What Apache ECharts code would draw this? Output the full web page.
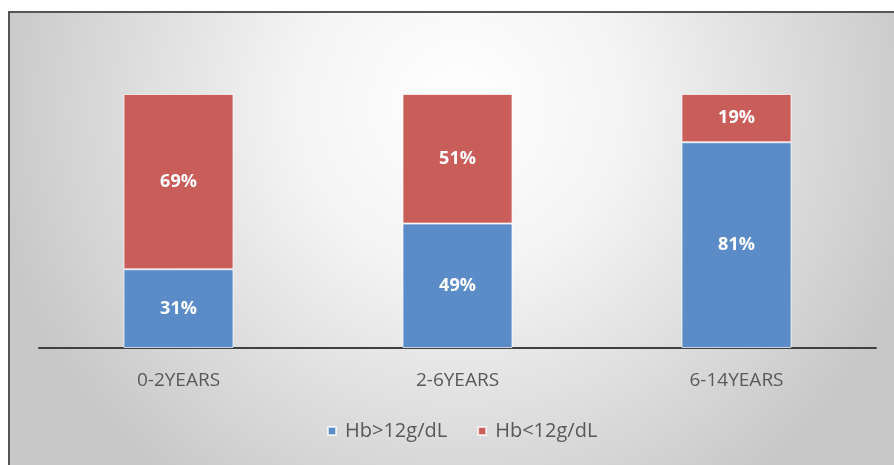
<!DOCTYPE html>
<html>
<head>
<meta charset="utf-8">
<script src="https://cdn.jsdelivr.net/npm/echarts@6/dist/echarts.min.js"></script>
<style>
  html, body { margin: 0; padding: 0; background: #ffffff; }
  #chart { width: 894px; height: 465px; }
</style>
</head>
<body>
<div id="chart"></div>
<script>
// Haemoglobin levels by age group (share of children, %)
const categories = ['0-2YEARS', '2-6YEARS', '6-14YEARS'];
const seriesNames = ['Hb>12g/dL', 'Hb<12g/dL'];
const hbAbove = [31, 49, 81];
const hbBelow = [69, 51, 19];

const blue = '#5b8cc7';
const red = '#c95d5a';

const chart = echarts.init(document.getElementById('chart'));

const labelStyle = {
  show: true,
  position: 'inside',
  color: '#ffffff',
  fontWeight: 'bold',
  fontSize: 18,
  fontFamily: 'Open Sans',
  formatter: p => p.value + '%'
};

chart.setOption({
  animation: false,
  graphic: [
    {
      type: 'rect',
      z: -10,
      shape: { x: 9, y: 12, width: 900, height: 470 },
      style: {
        fill: {
          type: 'radial', x: 0.5, y: 0.2, r: 1.0,
          colorStops: [
            { offset: 0, color: '#ffffff' },
            { offset: 0.35, color: '#f4f4f4' },
            { offset: 0.75, color: '#d9d9d9' },
            { offset: 1, color: '#c8c8c8' }
          ]
        },
        stroke: '#555555',
        lineWidth: 2
      }
    }
  ],
  grid: { left: 39, right: 18, top: 94, bottom: 117 },
  legend: {
    data: seriesNames,
    bottom: 19,
    left: 322,
    icon: 'rect',
    itemWidth: 8,
    itemHeight: 8,
    itemGap: 30,
    textStyle: { color: '#595959', fontSize: 20, fontFamily: 'Open Sans', padding: [0, 0, 0, 4] }
  },
  xAxis: {
    type: 'category',
    data: categories,
    axisLine: { lineStyle: { color: '#404040', width: 2 } },
    axisTick: { show: false },
    axisLabel: { color: '#595959', fontSize: 19, fontFamily: 'Open Sans', margin: 23 }
  },
  yAxis: {
    type: 'value',
    min: 0,
    max: 100,
    show: false,
    splitLine: { show: false }
  },
  series: [
    {
      name: seriesNames[0],
      type: 'bar',
      stack: 'hb',
      barWidth: 110,
      data: hbAbove,
      itemStyle: { color: blue, borderColor: 'rgba(255,255,255,0.7)', borderWidth: 1 },
      label: labelStyle
    },
    {
      name: seriesNames[1],
      type: 'bar',
      stack: 'hb',
      barWidth: 110,
      data: hbBelow,
      itemStyle: { color: red, borderColor: 'rgba(255,255,255,0.7)', borderWidth: 1 },
      label: labelStyle
    }
  ]
});
</script>
</body>
</html>
